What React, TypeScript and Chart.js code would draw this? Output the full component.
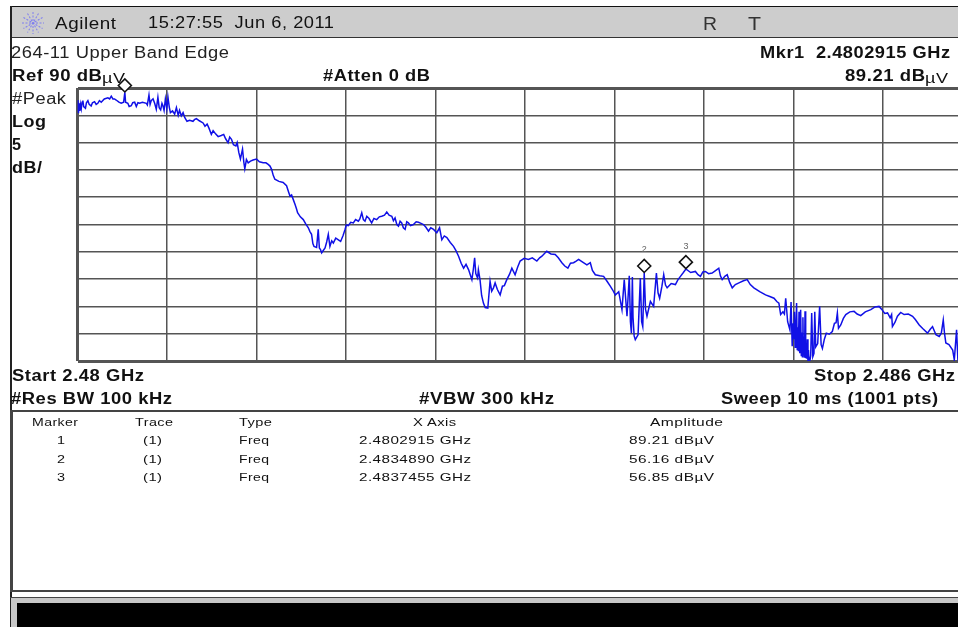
import React, { useEffect, useRef } from "react";
import { Chart, registerables } from "chart.js";

Chart.register(...registerables);

// Reference level and scale shown on the analyser screen
const refLevelDb = 90;
const floorDb = 40;
const dbPerDiv = 5;
const startGHz = 2.48;
// The markers' listed frequencies fix the on-screen span per division
const ghzPerDiv = 0.000551;
const divisions = 10;

// Trace: [offset from start in kHz, amplitude in dBµV]
const traceShoulder: [number, number][] = [
  [0,85.6],[3,87.8],[6,85.4],[10,87.2],[14,85.8],[18,87.0],[23,86.2],[28,87.4],[33,87.7],[38,86.6],[49,86.3],[55,87.3],[64,87.7],[72,87.0],[84,86.7],[92,87.3],[105,87.5],[115,87.0],[125,87.2],[135,87.7],[146,87.4],[165,88.0],[187,88.2],[198,88.0],[208,88.5],[218,88.0],[228,88.0],[238,87.8],[255,87.4],[269,87.2],[284,87.4],[291.5,89.21],[296,87.4],[310,87.2],[318,86.6],[331,86.75],[340,87.3],[352,87.4],[362,86.6],[372,87.3],[382,87.2],[400,87.4],[424,87.2],[430,86.9],[440,88.7],[447,87.0],[454,87.7],[465,88.0],[475,87.2],[485,86.1],[495,88.3],[503,86.4],[512,86.0],[520,87.2],[526,86.75],[533,85.9],[541,88.0],[550,86.2],[557,88.3],[565,86.5],[572,85.5],[585,85.8],[598,85.2],[609,86.4],[620,85.0],[628,85.9],[639,84.9],[650,85.5],[660,84.6],[674,83.9],[690,84.1],[711,83.9],[720,84.2],[732,84.4],[750,84.0],[773,83.6],[785,83.0],[798,83.4],[810,82.6],[824,81.5],[835,82.2],[850,81.6],[866,81.1],[885,81.3],[900,81.5],[912,80.7],[927,80.0],[937,81.0],[948,80.6],[960,79.6],[975,79.4],[983,80.0],[993,78.2],[1003,77.0],[1016,78.8],[1024,76.4],[1030,75.2],[1040,76.9],[1051,76.3],[1065,76.6],[1081,76.8],[1102,77.0],[1120,76.5],[1143,76.3],[1160,76.3],[1174,76.0],[1185,75.7],[1195,75.1],[1205,74.0],[1215,73.3],[1240,72.9],[1266,72.7],[1287,72.1],[1300,70.9],[1308,70.2],[1318,70.4],[1328,69.6],[1340,68.6],[1349,67.8],
];
const traceSecondLobe: [number, number][] = [
  [1355,67.15],[1372,66.4],[1390,65.9],[1405,65.1],[1421,64.4],[1431,63.7],[1441,63.2],[1449,61.5],[1456,61.0],[1472,60.8],[1482,64.1],[1489,60.7],[1496,60.4],[1503,59.8],[1512,60.2],[1524,60.7],[1534,61.8],[1544,63.2],[1554,61.0],[1565,62.0],[1575,61.6],[1590,62.5],[1606,62.2],[1620,61.9],[1635,63.0],[1647,64.1],[1655,64.9],[1667,64.8],[1682,65.4],[1698,65.3],[1712,65.9],[1729,65.6],[1738,66.0],[1750,67.15],[1760,65.9],[1770,65.6],[1781,66.5],[1795,66.1],[1811,65.3],[1825,66.1],[1842,65.9],[1858,66.4],[1873,66.5],[1890,66.7],[1904,67.3],[1918,66.7],[1935,66.5],[1945,65.7],[1955,66.2],[1966,65.0],[1976,64.7],[1986,65.6],[1996,65.3],[2006,64.4],[2017,64.1],[2027,65.5],[2037,65.3],[2050,64.8],[2068,65.0],[2085,65.5],[2099,65.4],[2115,65.2],[2130,65.0],[2145,64.5],[2161,63.8],[2175,64.4],[2192,64.1],[2212,63.5],[2229,64.4],[2243,62.2],[2258,62.9],[2274,62.6],[2295,61.7],[2315,61.0],[2330,60.2],[2346,59.2],[2362,57.9],[2377,57.0],[2392,57.7],[2408,56.7],[2418,55.8],[2428,54.9],[2437,56.8],[2445,58.9],[2452,56.0],[2463,55.2],
];
const traceThirdLobe: [number, number][] = [
  [2468,56.7],[2478,54.9],[2488,52.0],[2499,50.6],[2510,49.8],[2526,49.7],[2540,54.6],[2550,52.8],[2561,53.4],[2571,54.3],[2585,53.1],[2602,52.1],[2616,53.7],[2628,53.8],[2643,54.9],[2660,55.9],[2674,57.0],[2694,55.8],[2710,57.2],[2725,58.3],[2750,58.8],[2776,58.6],[2800,58.9],[2828,58.3],[2845,58.9],[2859,59.2],[2875,59.7],[2889,60.1],[2915,59.6],[2941,59.5],[2960,58.9],[2982,58.0],[3000,57.4],[3019,57.0],[3035,57.9],[3054,58.0],[3070,58.3],[3085,58.6],[3110,58.1],[3136,57.6],[3157,58.0],[3170,56.6],[3188,55.8],[3215,55.6],[3239,55.5],[3260,54.6],[3280,53.7],[3295,53.0],[3311,52.1],[3332,52.7],[3352,49.4],[3366,54.9],[3383,48.2],[3397,55.6],[3404,47.2],[3410,45.1],[3416,55.4],[3420,48.0],[3427,44.6],[3434,43.9],[3451,44.8],[3465,55.2],[3473,47.2],[3480,46.3],[3489,56.16],[3497,49.5],[3506,48.2],[3527,50.9],[3547,50.0],[3564,56.1],[3574,52.5],[3584,51.5],[3598,53.7],[3609,55.8],[3620,53.9],[3630,53.4],[3655,54.2],[3681,54.0],[3697,54.9],[3712,55.5],[3730,56.2],[3745.5,56.85],[3775,56.2],[3804,56.4],[3820,55.8],[3835,55.5],[3850,56.3],[3866,56.4],[3885,56.0],[3907,56.1],[3930,56.6],[3948,57.0],[3958,55.6],[3969,54.9],[3985,55.5],[4000,55.8],[4015,54.4],[4031,53.4],[4050,54.0],[4072,54.3],[4100,54.7],[4123,54.9],[4142,54.0],[4164,53.4],[4200,52.7],[4236,52.1],[4262,51.8],[4288,51.5],[4305,50.9],[4318,50.6],[4329,48.5],
];
const traceFourthLobe: [number, number][] = [
  [4343,49.0],[4352,48.6],[4360,51.5],[4372,47.2],[4386,45.7],[4393,50.8],[4400,42.7],[4406,46.9],[4410,44.0],[4414,49.0],[4418,42.5],[4423,46.0],[4427,50.6],[4431,42.1],[4434,46.2],[4438,41.8],[4442,49.0],[4445,41.4],[4448,45.0],[4452,49.4],[4456,41.0],[4460,45.2],[4463,40.8],[4466,48.0],[4469,41.2],[4472,44.5],[4476,40.6],[4479,49.1],[4483,40.5],[4486,43.0],[4490,40.4],[4493,44.0],[4497,40.0],[4500,42.0],[4504,40.0],[4508,39.9],[4514,41.0],[4520,48.8],[4527,40.8],[4534,41.4],[4539,49.0],[4545,42.6],[4557,43.2],[4569,50.0],[4578,43.0],[4586,42.3],[4598,44.0],[4610,45.1],[4628,44.9],[4647,45.4],[4660,46.9],[4670,47.0],[4678,48.8],[4685,46.0],[4699,46.6],[4715,47.8],[4730,48.5],[4755,49.0],[4781,49.1],[4800,48.6],[4822,48.3],[4850,49.0],[4884,49.4],[4910,49.9],[4935,50.0],[4950,49.5],[4970,48.7],[4987,48.8],[5003,47.9],[5012,48.5],[5017,46.3],[5033,47.1],[5048,48.2],[5068,48.9],[5089,48.5],[5115,48.6],[5141,48.2],[5158,47.6],[5182,46.6],[5205,45.9],[5233,45.1],[5250,45.8],[5264,46.3],[5285,44.8],[5305,44.5],[5318,45.1],[5330,47.5],[5338,45.0],[5346,43.3],[5365,43.0],[5388,42.0],[5398,40.2],[5412,45.7],[5420,40.2],[5440,39.8],
];
const tracePoints = [...traceShoulder, ...traceSecondLobe, ...traceThirdLobe, ...traceFourthLobe];

// Marker table
const markerIds = ["1", "2", "3"];
const markerGHz = [2.4802915, 2.483489, 2.4837455];
const markerDb = [89.21, 56.16, 56.85];
const markerLiftDb = 1.25;
const markerDrawnLabels = ["", "2", "3"];

const F = '"Liberation Sans", Arial, sans-serif';
const measureCtx = typeof document !== "undefined" ? document.createElement("canvas").getContext("2d") : null;

type Lbl = { t: string; x: number; y: number; w: number; s: number; b?: boolean; c?: string };

const headerLabels: Lbl[] = [
  { t: "Agilent", x: 55, y: 23, w: 61, s: 16.5 },
  { t: "15:27:55  Jun 6, 2011", x: 148, y: 23, w: 186, s: 16 },
  { t: "R", x: 703, y: 23, w: 14, s: 19, c: "#333" },
  { t: "T", x: 748, y: 23, w: 13, s: 19, c: "#333" },
  { t: "264-11 Upper Band Edge", x: 11, y: 53, w: 218, s: 16, c: "#222" },
  { t: "Mkr1  2.4802915 GHz", x: 760, y: 53, w: 190, s: 16, b: true },
  { t: "Ref 90 dB", x: 12, y: 76, w: 90, s: 16, b: true },
  { t: "µV", x: 102, y: 77, w: 23, s: 15 },
  { t: "#Atten 0 dB", x: 323, y: 76, w: 107, s: 16, b: true },
  { t: "89.21 dB", x: 845, y: 76, w: 80, s: 16, b: true },
  { t: "µV", x: 925, y: 77, w: 23, s: 15 },
  { t: "#Peak", x: 12, y: 99, w: 54, s: 16, c: "#222" },
  { t: "Log", x: 12, y: 122, w: 34, s: 16, b: true },
  { t: "5", x: 12, y: 145, w: 9, s: 16, b: true },
  { t: "dB/", x: 12, y: 168, w: 30, s: 16, b: true },
  { t: "Start 2.48 GHz", x: 12, y: 376, w: 132, s: 16, b: true },
  { t: "Stop 2.486 GHz", x: 814, y: 376, w: 141, s: 16, b: true },
  { t: "#Res BW 100 kHz", x: 11, y: 399, w: 161, s: 16, b: true },
  { t: "#VBW 300 kHz", x: 419, y: 399, w: 135, s: 16, b: true },
  { t: "Sweep 10 ms (1001 pts)", x: 721, y: 399, w: 217, s: 16, b: true },
];

const tableHeaders: Lbl[] = [
  { t: "Marker", x: 32, y: 423, w: 46, s: 11.5 },
  { t: "Trace", x: 135, y: 423, w: 38, s: 11.5 },
  { t: "Type", x: 239, y: 423, w: 33, s: 11.5 },
  { t: "X Axis", x: 413, y: 423, w: 44, s: 11.5 },
  { t: "Amplitude", x: 650, y: 423, w: 73, s: 11.5 },
];
const rowY = [441, 460, 478];
const tableRows: Lbl[] = markerIds.flatMap((id, i) => [
  { t: id, x: 57, y: rowY[i], w: 8, s: 11.5 },
  { t: "(1)", x: 143, y: rowY[i], w: 19, s: 11.5 },
  { t: "Freq", x: 239, y: rowY[i], w: 30, s: 11.5 },
  { t: `${markerGHz[i].toFixed(7)} GHz`, x: 359, y: rowY[i], w: 112, s: 11.5 },
  { t: `${markerDb[i].toFixed(2)} dBµV`, x: 629, y: rowY[i], w: 85, s: 11.5 },
]);

function Label({ l }: { l: Lbl }) {
  const weight = l.b ? "bold" : "normal";
  const spacing = l.s * 0.03;
  let sx = 1;
  if (measureCtx) {
    measureCtx.font = `${weight} ${l.s}px ${F}`;
    sx = l.w / (measureCtx.measureText(l.t).width + spacing * (l.t.length - 1));
  }
  return (
    <span
      style={{
        position: "absolute",
        left: l.x,
        top: l.y,
        transform: `translateY(-50%) scaleX(${sx})`,
        transformOrigin: "left center",
        font: `${weight} ${l.s}px ${F}`,
        letterSpacing: spacing,
        whiteSpace: "pre",
        color: l.c ?? "#111",
        lineHeight: 1,
      }}
    >
      {l.t}
    </span>
  );
}

function box(left: number, top: number, width: number, height: number, background: string) {
  return <div style={{ position: "absolute", left, top, width, height, background }} />;
}

const starAngles = [0, 30, 60, 90, 120, 150];

export default function App() {
  const ref = useRef<HTMLCanvasElement>(null);

  useEffect(() => {
    const canvas = ref.current;
    if (!canvas) return;
    const markerText = {
      id: "markerText",
      afterDatasetsDraw(chart: any) {
        const { ctx, scales } = chart;
        ctx.save();
        ctx.fillStyle = "#666";
        ctx.font = `9px ${F}`;
        ctx.textAlign = "center";
        ctx.textBaseline = "middle";
        markerDrawnLabels.forEach((txt, i) => {
          if (!txt) return;
          ctx.fillText(txt, scales.x.getPixelForValue(markerGHz[i]), scales.y.getPixelForValue(markerDb[i] + markerLiftDb) - 16);
        });
        ctx.restore();
      },
    };
    const chart = new Chart(canvas, {
      type: "line",
      data: {
        datasets: [
          {
            label: "Markers",
            data: markerGHz.map((x, i) => ({ x, y: markerDb[i] + markerLiftDb })),
            showLine: false,
            pointStyle: "rectRot",
            pointRadius: 6.5,
            pointBorderWidth: 1.6,
            pointBorderColor: "#111",
            pointBackgroundColor: "#fff",
            clip: false,
            order: 0,
          },
          {
            label: "Trace 1",
            data: tracePoints.map(([k, db]) => ({ x: startGHz + k / 1e6, y: db })),
            borderColor: "#1010e6",
            borderWidth: 1.5,
            pointRadius: 0,
            tension: 0,
            order: 1,
          },
        ],
      },
      options: {
        animation: false,
        responsive: false,
        parsing: false,
        layout: { padding: { left: 77.5, top: 88, right: 17.5, bottom: 266 } },
        plugins: { legend: { display: false }, tooltip: { enabled: false } },
        scales: {
          x: {
            type: "linear",
            min: startGHz,
            max: startGHz + ghzPerDiv * divisions,
            border: { display: false },
            ticks: { display: false, stepSize: ghzPerDiv },
            grid: { color: "#555", lineWidth: (c: any) => (c.index === 0 ? 3 : 1.5), drawTicks: false },
          },
          y: {
            min: floorDb,
            max: refLevelDb,
            border: { display: false },
            ticks: { display: false, stepSize: dbPerDiv },
            grid: {
              color: "#555",
              lineWidth: (c: any) => (c.tick.value === floorDb || c.tick.value === refLevelDb ? 3 : 1.5),
              drawTicks: false,
            },
          },
        },
      },
      plugins: [markerText],
    } as any);
    return () => chart.destroy();
  }, []);

  return (
    <div style={{ position: "fixed", left: 0, top: 0, width: 958, height: 627, overflow: "hidden", background: "#fff", filter: "blur(0.4px)" }}>
      {box(10, 6, 948, 1.5, "#111")}
      {box(10, 7, 948, 30, "#cdcdcd")}
      {box(10, 36.5, 948, 1.5, "#333")}
      {box(10, 6, 1.5, 621, "#222")}
      <canvas ref={ref} width={990} height={627} style={{ position: "absolute", left: 0, top: 0, width: 990, height: 627 }} />
      {box(10, 409.5, 948, 2, "#444")}
      {box(10, 410, 2.5, 181, "#444")}
      {box(10, 590, 948, 2, "#444")}
      {box(10, 596.5, 948, 1.2, "#444")}
      {box(11, 597.5, 947, 6, "#c8c8c8")}
      {box(11, 597.5, 6, 30, "#c8c8c8")}
      {box(17, 603, 941, 24, "#000")}
      <svg style={{ position: "absolute", left: 21, top: 11 }} width={24} height={24}>
        {starAngles.map((a) => (
          <line key={a} x1={1} y1={12} x2={23} y2={12} stroke="#7f7ff0" strokeWidth={1} strokeDasharray="2 1.5" transform={`rotate(${a} 12 12)`} />
        ))}
      </svg>
      {headerLabels.map((l, i) => (
        <Label key={`h${i}`} l={l} />
      ))}
      {tableHeaders.map((l, i) => (
        <Label key={`t${i}`} l={l} />
      ))}
      {tableRows.map((l, i) => (
        <Label key={`r${i}`} l={l} />
      ))}
    </div>
  );
}
